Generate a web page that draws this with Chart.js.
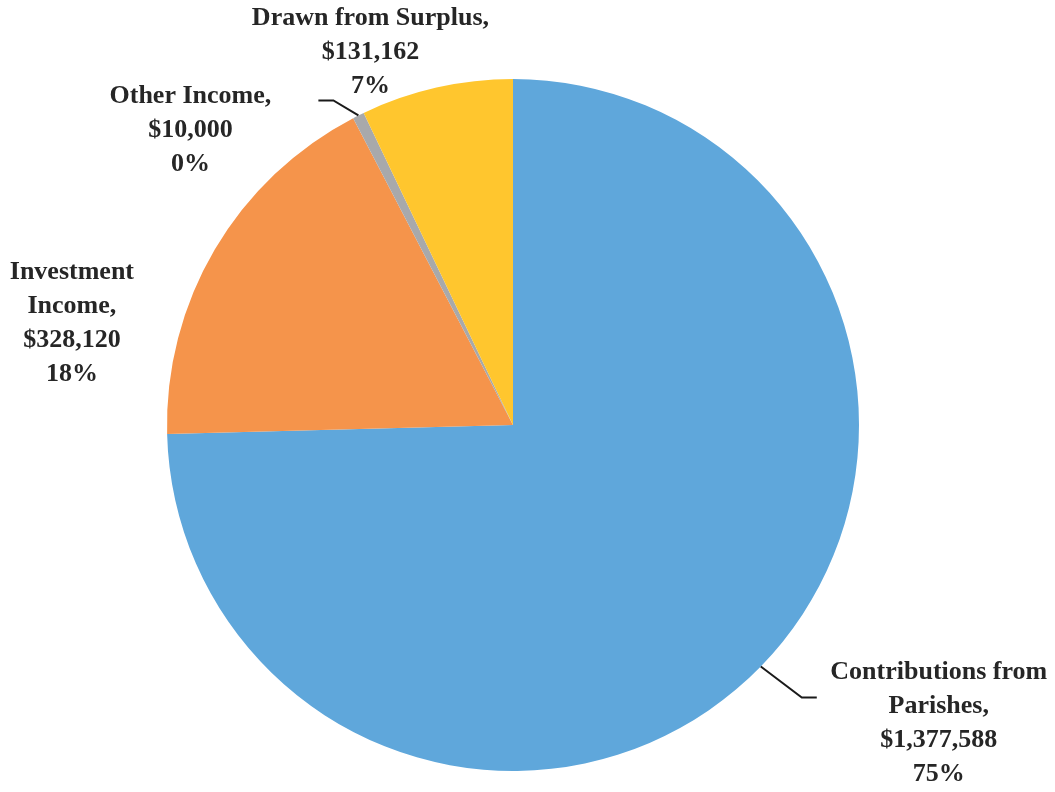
<!DOCTYPE html>
<html>
<head>
<meta charset="utf-8">
<script src="https://cdn.jsdelivr.net/npm/chart.js@4.4.1/dist/chart.umd.min.js"></script>
<style>
  html, body { margin: 0; padding: 0; background: #fff; }
  #wrap { width: 1055px; height: 792px; }
</style>
</head>
<body>
<div id="wrap"><canvas id="incomeChart" width="1055" height="792"></canvas></div>
<script>
// data
const categories = ['Contributions from Parishes', 'Investment Income', 'Other Income', 'Drawn from Surplus'];
const amounts = [1377588, 328120, 10000, 131162];
const percentLabels = ['75%', '18%', '0%', '7%'];
const labelLines = [
    ['Contributions from', 'Parishes,'],
    ['Investment', 'Income,'],
    ['Other Income,'],
    ['Drawn from Surplus,']
];
const sliceColors = ['#5FA7DB', '#F5944B', '#A8A9AB', '#FFC62E'];

// where each label sits relative to the edge point of its slice (layout only)
const labelOffsets = [[178, 57], [-143, 74], [-168, 15], [-66, -35]];
const leaders = [[[41, 31], [56, 31]], null, [[-25, -15], [-40, -15]], null];

const money = v => '$' + v.toLocaleString('en-US');

const outsideLabels = {
    id: 'outsideLabels',
    afterDatasetsDraw(chart) {
        const c = chart.ctx;
        const meta = chart.getDatasetMeta(0);
        c.save();
        meta.data.forEach((arc, i) => {
            const p = arc.getProps(['x', 'y', 'startAngle', 'endAngle', 'outerRadius'], true);
            const mid = (p.startAngle + p.endAngle) / 2;
            const ax = p.x + Math.cos(mid) * p.outerRadius;
            const ay = p.y + Math.sin(mid) * p.outerRadius;
            if (leaders[i]) {
                c.strokeStyle = '#1a1a1a';
                c.lineWidth = 2;
                c.beginPath();
                c.moveTo(ax, ay);
                leaders[i].forEach(pt => c.lineTo(ax + pt[0], ay + pt[1]));
                c.stroke();
            }
            const lines = labelLines[i].concat([money(amounts[i]), percentLabels[i]]);
            const lh = 34;
            const cx = ax + labelOffsets[i][0];
            const cy = ay + labelOffsets[i][1];
            c.fillStyle = '#262626';
            c.font = 'bold 26px "Liberation Serif", "DejaVu Serif", serif';
            c.textAlign = 'center';
            c.textBaseline = 'middle';
            lines.forEach((t, k) => {
                c.fillText(t, cx, cy + (k - (lines.length - 1) / 2) * lh);
            });
        });
        c.restore();
    }
};

const config = {
    type: 'pie',
    data: {
        labels: categories,
        datasets: [{
            data: amounts,
            backgroundColor: sliceColors,
            borderWidth: 0
        }]
    },
    options: {
        responsive: false,
        animation: false,
        layout: {
            padding: { top: 79, bottom: 21, left: 167, right: 196 }
        },
        plugins: {
            legend: { display: false },
            tooltip: { enabled: false }
        }
    },
    plugins: [outsideLabels]
};

const incomeChart = new Chart(document.getElementById('incomeChart'), config);
</script>
</body>
</html>
